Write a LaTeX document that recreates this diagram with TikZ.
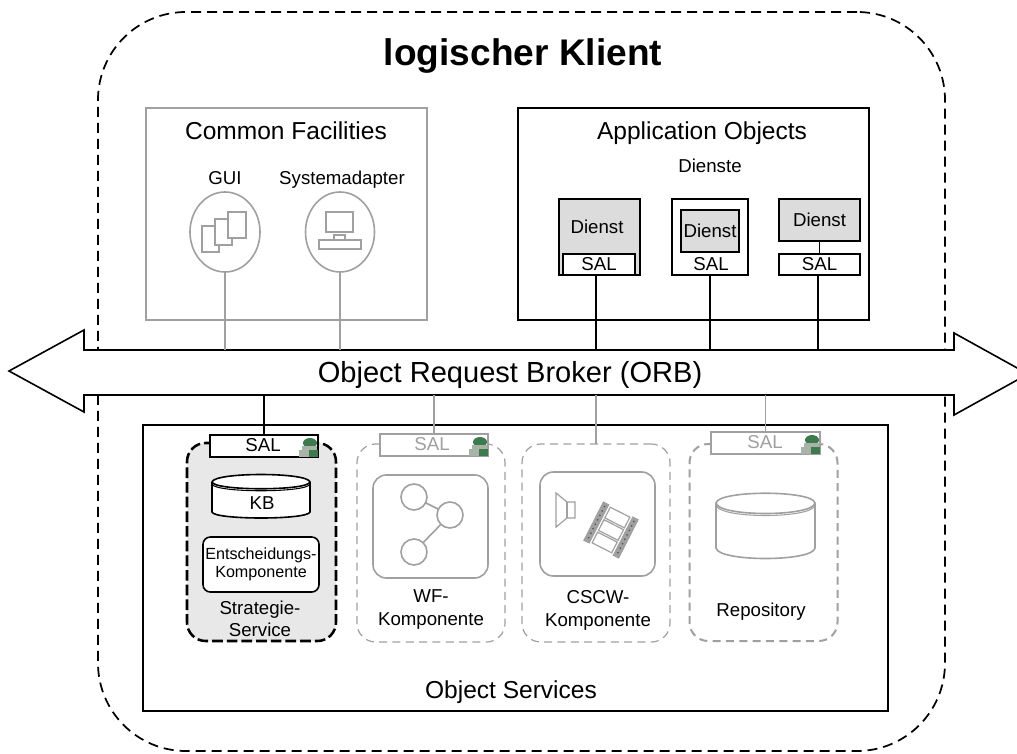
\documentclass[tikz,border=0pt]{standalone}
\usepackage{fontspec}
\setmainfont{Liberation Sans}
\usetikzlibrary{shapes.geometric}
\definecolor{linegray}{HTML}{A0A0A0}
\definecolor{fillgray}{HTML}{DCDCDC}
\definecolor{panelgray}{HTML}{E8E8E8}
\definecolor{guardgreen}{HTML}{3D7A4D}
\definecolor{guardgray}{HTML}{A8B4A8}
\tikzset{
  size/.style 2 args={minimum width=#1*.75pt,minimum height=#2*.75pt,inner sep=0pt,outer sep=0pt},
  hugetext/.style={font=\bfseries\fontsize{27.8}{33}\selectfont},
  orbtext/.style={font=\fontsize{21.8}{26}\selectfont},
  bigtext/.style={font=\fontsize{18.4}{22}\selectfont},
  smalltext/.style={font=\fontsize{14}{16.8}\selectfont,align=center},
  tinytext/.style={font=\fontsize{12.1}{13.6}\selectfont,align=center},
  box/.style={draw,line width=1.2pt},
  graybox/.style={draw=linegray,line width=1.2pt},
  icon/.style={draw=linegray,line width=.9pt,fill=white},
  sal/.style={draw,line width=1.2pt,fill=white,font=\fontsize{14}{16}\selectfont},
  graysal/.style={draw=linegray,line width=1.2pt,fill=white,text=linegray,font=\fontsize{14}{16}\selectfont},
  link/.style={line width=1.2pt},
  graylink/.style={line width=1.2pt,draw=linegray},
  drum/.style={line width=1.2pt,fill=white}
}
\newcommand{\guard}[2]{%
  \begin{scope}[shift={(#1,#2)}]
    \fill[guardgreen] (2,-5) ellipse (7 and 5);
    \fill[guardgray] (-6,-2) rectangle (9,2);
    \fill[guardgray] (-9,2) rectangle (1,9);
    \fill[guardgreen] (1,2) rectangle (9.5,9);
  \end{scope}}
\begin{document}
\begin{tikzpicture}[x=.75pt,y=-.75pt]
\path[use as bounding box,clip] (0,0) rectangle (1017,753);
\node (KL) [size={847}{739},draw,line width=1.3pt,rounded corners=66pt,dash pattern=on 7.5pt off 4.5pt] at (521.5,381.5) {};
\node (KLT) [hugetext] at (523,56) {logischer Klient};

\node (CF) [size={281}{212},graybox] at (286.5,214) {};
\node (CFT) [bigtext] at (286,131) {Common Facilities};
\node (GUIT) [smalltext] at (225,178) {GUI};
\node (SAT) [smalltext] at (342,180) {Systemadapter};
\node (GUI) [size={70}{80},ellipse,graybox] at (225,232) {};
\node (SA) [size={69}{80},ellipse,graybox] at (340,232) {};
\draw [icon] (202,226) rectangle (219,252);
\draw [icon] (215,219) rectangle (232,245);
\draw [icon] (228,212) rectangle (246,238);
\draw [icon] (326,212) rectangle (353,232);
\draw [icon] (334,235) rectangle (345,240);
\draw [icon] (319,240) rectangle (361,249);

\node (AO) [size={351}{212},box] at (693.5,214) {};
\node (AOT) [bigtext] at (702,133) {Application Objects};
\node (DT) [smalltext] at (710,166) {Dienste};

\node (D1) [size={81}{76},box,fill=fillgray] at (599.5,237) {};
\node (D1T) [smalltext] at (597,227) {Dienst};
\node (S1) [size={72}{21},sal] at (599,264.5) {SAL};
\node (D2) [size={76}{76},box,fill=white] at (710,237) {};
\node (D2I) [size={58}{42},box,fill=fillgray,smalltext] at (710,231) {Dienst};
\node (S2T) [smalltext] at (711,264) {SAL};
\node (D3) [size={81}{42},box,fill=fillgray,smalltext] at (819.5,220) {Dienst};
\node (S3) [size={81}{21},sal] at (819.5,264.5) {SAL};
\draw [link] (D3) -- (S3);

\draw [line width=1.2pt,fill=white,line join=miter]
  (84,350) -- (84,330) -- (9,371) -- (84,412) -- (84,395) -- (954,395) -- (954,415) -- (1028,374) -- (954,333) -- (954,350) -- cycle;
\node (ORB) [size={870}{45},orbtext] at (519,372.5) {};
\node (ORBT) [orbtext] at (510,375) {Object Request Broker (ORB)};

\draw [graylink] (GUI.south) -- (GUI.south |- ORB.north);
\draw [graylink] (SA.south) -- (SA.south |- ORB.north);
\draw [link] ([xshift=-2.2pt]S1.south) -- ([xshift=-2.2pt]S1.south |- ORB.north);
\draw [link] (D2.south) -- (D2.south |- ORB.north);
\draw [link] ([xshift=-1pt]S3.south) -- ([xshift=-1pt]S3.south |- ORB.north);

\node (OS) [size={745}{286},box] at (515.5,568) {};
\node (OST) [bigtext] at (511,692) {Object Services};

\node (SS) [size={149}{198},draw,line width=1.9pt,fill=panelgray,rounded corners=14pt,dash pattern=on 8pt off 3pt] at (261.5,542) {};
\node (SL) [size={108}{22},sal] at (264,446) {};
\node (SLT) [smalltext] at (263,445) {SAL};
\guard{308}{448}
\draw [drum] (212,482) .. controls (214,472) and (308,472) .. (310,482) -- (310,512) .. controls (308,520) and (214,520) .. (212,512) -- cycle;
\draw [line width=1.2pt] (212,482) .. controls (214,491) and (308,491) .. (310,482);
\draw [line width=.8pt] (212,484) .. controls (214,493) and (308,493) .. (310,484);
\node (KB) [smalltext] at (262,503) {KB};
\node (EK) [size={116}{55},box,fill=white,rounded corners=5.5pt,tinytext] at (261,564.5) {Entscheidungs-\\Komponente};
\node (SST) [font=\fontsize{14}{16.5}\selectfont,align=center] at (260,619) {Strategie-\\Service};
\draw [link] (ORB.south -| SL.north) -- (SL.north);

\node (WF) [size={148}{198},draw=linegray,line width=.9pt,rounded corners=14pt,dash pattern=on 6pt off 4pt] at (431,543) {};
\node (WL) [size={108}{22},graysal] at (434,445) {};
\node (WLT) [smalltext,text=linegray] at (432,444) {SAL};
\guard{478}{447}
\node (WB) [size={115}{103},graybox,rounded corners=10pt] at (430.5,526.5) {};
\node (W1) [size={26}{26},circle,graybox] at (414,497) {};
\node (W2) [size={26}{26},circle,graybox] at (450,515) {};
\node (W3) [size={26}{26},circle,graybox] at (414,552) {};
\draw [graylink] (W1) -- (W2);
\draw [graylink] (W3) -- (W2);
\node (WFT) [font=\fontsize{14}{17.2}\selectfont,align=center] at (431,609.5) {WF-\\Komponente};
\draw [graylink] (ORB.south -| WL.north) -- (WL.north);

\node (CS) [size={148}{198},draw=linegray,line width=.9pt,rounded corners=14pt,dash pattern=on 6pt off 4pt] at (596,543) {};
\node (CB) [size={115}{104},graybox,rounded corners=10pt] at (597.5,524) {};
\draw [graylink,line width=.9pt] (556,493) -- (567,502) -- (575,502) -- (575,518) -- (567,518) -- (556,527) -- cycle;
\draw [graylink,line width=.9pt] (567,502) -- (567,518);
\begin{scope}[shift={(611,530)},rotate=-27]
  \fill [linegray] (-20,-22) rectangle (-13,22);
  \fill [linegray] (13,-22) rectangle (20,22);
  \foreach \i in {-18,-13,...,18} {
    \fill [black!70] (-16.5,\i) circle (.9);
    \fill [black!70] (16.5,\i) circle (.9);
  }
  \draw [icon] (-11,-20) rectangle (11,-8);
  \draw [icon] (-11,-6) rectangle (11,6);
  \draw [icon] (-11,8) rectangle (11,20);
\end{scope}
\node (CST) [font=\fontsize{14}{17.2}\selectfont,align=center] at (598,610) {CSCW-\\Komponente};
\draw [graylink] (ORB.south -| CS.north) -- (CS.north);

\node (RP) [size={148}{197},draw=linegray,line width=1.5pt,rounded corners=14pt,dash pattern=on 6pt off 4pt] at (763.5,542.5) {};
\node (RL) [size={109}{22},graysal] at (765.5,443) {};
\node (RLT) [smalltext,text=linegray] at (765,442) {SAL};
\guard{810}{445}
\draw [graylink,fill=white] (716,503) .. controls (718,490) and (813,490) .. (815,503) -- (815,548) .. controls (813,562) and (718,562) .. (716,548) -- cycle;
\draw [graylink] (716,503) .. controls (718,517) and (813,517) .. (815,503);
\draw [graylink,line width=.8pt] (716,505) .. controls (718,519) and (813,519) .. (815,505);
\node (RPT) [smalltext] at (761,612) {Repository};
\draw [graylink] (ORB.south -| RL.north) -- (RL.north);
\end{tikzpicture}
\end{document}
